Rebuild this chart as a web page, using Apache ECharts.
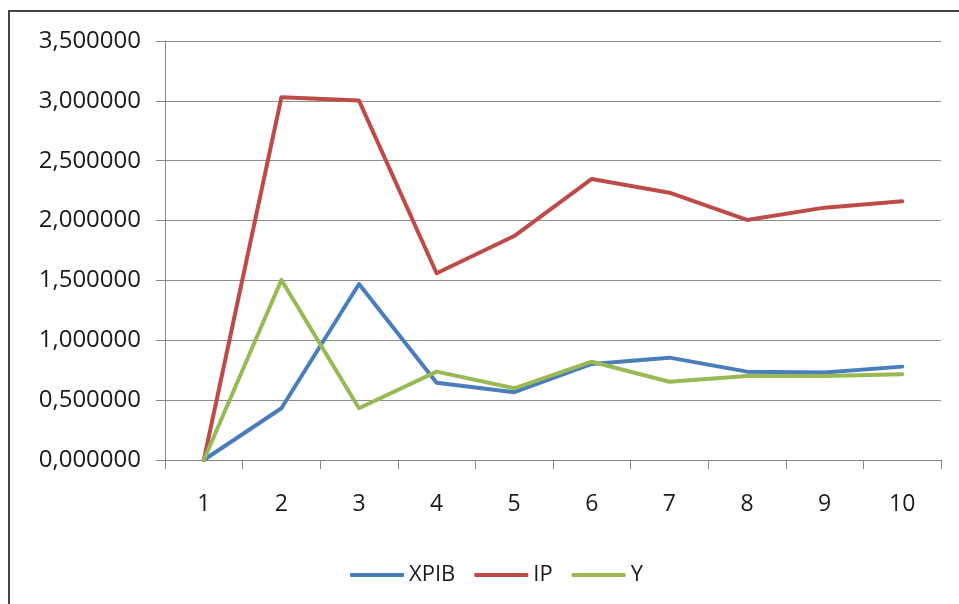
<!DOCTYPE html>
<html>
<head>
<meta charset="utf-8">
<script src="https://cdn.jsdelivr.net/npm/echarts@6/dist/echarts.min.js"></script>
<style>html,body{margin:0;padding:0;background:#fff}#c{width:959px;height:604px}</style>
</head>
<body>
<div id="c"></div>
<script>
const categories = ['1','2','3','4','5','6','7','8','9','10'];
const xpib = [0, 0.432, 1.470, 0.646, 0.566, 0.802, 0.855, 0.738, 0.730, 0.780];
const ip   = [0, 3.030, 3.002, 1.560, 1.871, 2.348, 2.233, 2.005, 2.108, 2.161];
const y    = [0, 1.504, 0.432, 0.738, 0.599, 0.821, 0.654, 0.702, 0.702, 0.716];
const seriesNames = ['XPIB', 'IP', 'Y'];
const colors = ['#4A7EBB', '#BE4B48', '#98B954'];
const yTicks = { min: 0, max: 3.5, interval: 0.5 };

const chart = echarts.init(document.getElementById('c'));
const font = '"Open Sans", sans-serif';
const mk = (name, data, color) => ({
  name, type: 'line', data, symbol: 'none', smooth: false,
  lineStyle: { color, width: 4, cap: 'round', join: 'round' },
  itemStyle: { color }
});
chart.setOption({
  animation: false,
  backgroundColor: '#fff',
  color: colors,
  graphic: [{
    type: 'rect', z: -1,
    shape: { x: 9, y: 11, width: 1100, height: 1100 },
    style: { fill: 'none', stroke: '#444', lineWidth: 2 }
  }],
  grid: { left: 165, right: 18, top: 41, bottom: 144, containLabel: false },
  xAxis: {
    type: 'category', data: categories, boundaryGap: true,
    axisLine: { lineStyle: { color: '#868686', width: 1 } },
    axisTick: { show: true, length: 9, alignWithLabel: false, lineStyle: { color: '#868686' } },
    axisLabel: { color: '#1a1a1a', fontFamily: font, fontSize: 23, margin: 33 },
    splitLine: { show: false }
  },
  yAxis: {
    type: 'value', min: yTicks.min, max: yTicks.max, interval: yTicks.interval,
    axisLine: { show: true, lineStyle: { color: '#868686', width: 1 } },
    axisTick: { show: true, length: 9, lineStyle: { color: '#868686' } },
    axisLabel: { color: '#1a1a1a', fontFamily: font, fontSize: 24, margin: 24,
      formatter: v => v.toFixed(6).replace('.', ',') },
    splitLine: { show: true, lineStyle: { color: '#8c8c8c', width: 1 } }
  },
  legend: {
    data: seriesNames, bottom: 13, left: 345,
    icon: 'roundRect', itemWidth: 54, itemHeight: 4, itemGap: 19,
    textStyle: { color: '#1a1a1a', fontFamily: font, fontSize: 22 }
  },
  series: [mk(seriesNames[0], xpib, colors[0]), mk(seriesNames[1], ip, colors[1]), mk(seriesNames[2], y, colors[2])]
});
</script>
</body>
</html>
